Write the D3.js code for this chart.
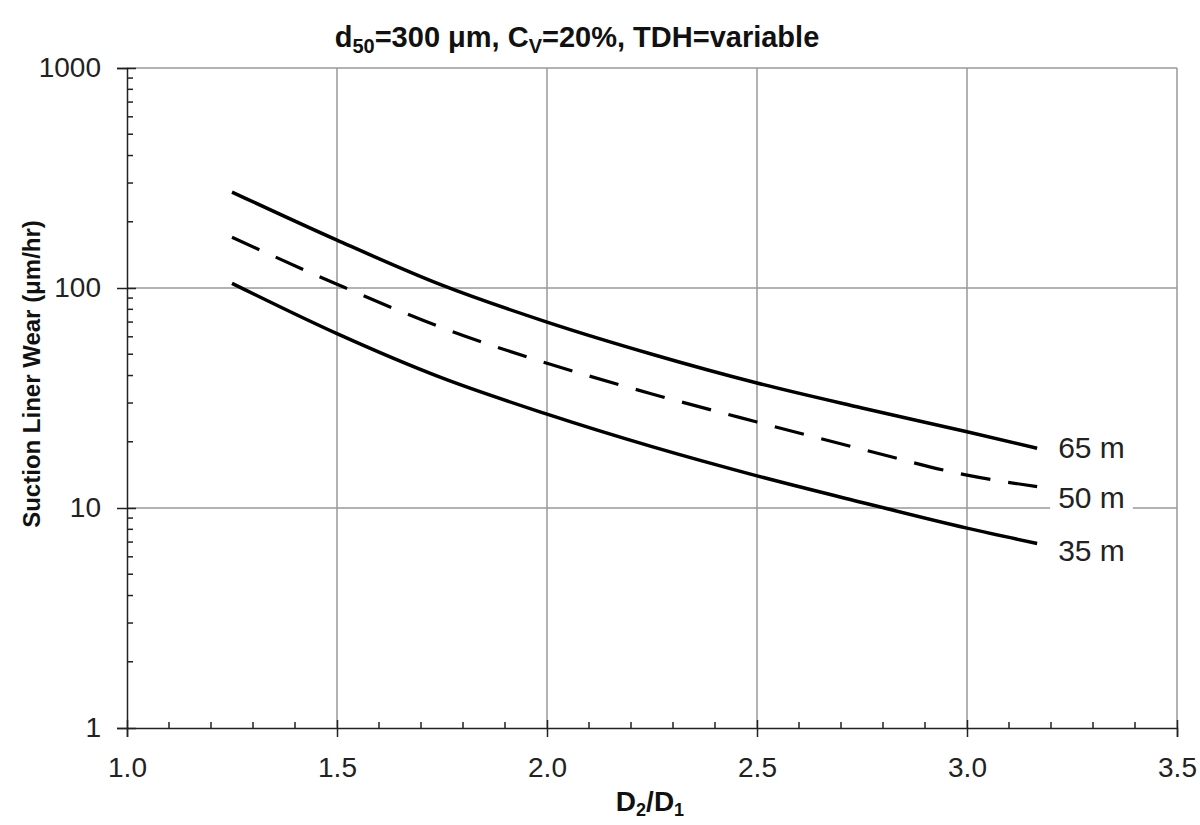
<!DOCTYPE html>
<html>
<head>
<meta charset="utf-8">
<script src="https://cdn.jsdelivr.net/npm/d3@7"></script>
<style>
  body { margin: 0; background: #fff; }
  text { font-family: "Liberation Sans", Arial, sans-serif; }
</style>
</head>
<body>
<div id="chart"></div>
<script>
// D2/D1 values
const ratios = [1.25, 1.5, 1.75, 2.0, 2.25, 2.5, 2.75, 3.0, 3.167];
// suction liner wear, um/hr
const wear65 = [273, 165, 103, 70, 50, 37, 28.5, 22.2, 18.7];
const wear50 = [170, 104, 66, 45.5, 33, 24.6, 18.5, 14.1, 12.5];
const wear35 = [105, 62, 39, 26.7, 19, 14, 10.6, 8.1, 6.9];
const seriesNames = ["65 m", "50 m", "35 m"];
const xTicks = [1.0, 1.5, 2.0, 2.5, 3.0, 3.5];
const yTicks = [1, 10, 100, 1000];

const chart = {};
chart.width = 1200;
chart.height = 825;
chart.margin = { top: 68, right: 23, bottom: 97, left: 127 };
chart.w = chart.width - chart.margin.left - chart.margin.right;
chart.h = chart.height - chart.margin.top - chart.margin.bottom;

const svg = d3.select("#chart")
    .append("svg")
    .attr("width", chart.width)
    .attr("height", chart.height);

const g = svg.append("g")
    .attr("transform", "translate(" + chart.margin.left + "," + chart.margin.top + ")");

const x = d3.scaleLinear().domain([1.0, 3.5]).range([0, chart.w]);
const y = d3.scaleLog().domain([1, 1000]).range([chart.h, 0]);

// gridlines
g.append("g").selectAll("line").data(xTicks.slice(1)).enter().append("line")
    .attr("x1", d => x(d)).attr("x2", d => x(d))
    .attr("y1", 0).attr("y2", chart.h)
    .attr("stroke", "#999").attr("stroke-width", 1.5);
g.append("g").selectAll("line").data(yTicks.slice(1)).enter().append("line")
    .attr("x1", 0).attr("x2", chart.w)
    .attr("y1", d => y(d)).attr("y2", d => y(d))
    .attr("stroke", "#999").attr("stroke-width", 1.5);

// minor ticks
const xMinor = d3.range(10, 35).map(d => d / 10).filter(d => Math.abs(d * 2 - Math.round(d * 2)) > 1e-6);
g.append("g").selectAll("line").data(xMinor).enter().append("line")
    .attr("x1", d => x(d)).attr("x2", d => x(d))
    .attr("y1", chart.h - 6).attr("y2", chart.h)
    .attr("stroke", "#222").attr("stroke-width", 1.5);
const yMinor = [];
[1, 10, 100].forEach(dec => { for (let k = 2; k <= 9; k++) yMinor.push(dec * k); });
g.append("g").selectAll("line").data(yMinor).enter().append("line")
    .attr("x1", 0).attr("x2", 6)
    .attr("y1", d => y(d)).attr("y2", d => y(d))
    .attr("stroke", "#222").attr("stroke-width", 1.5);

// axes
const xAxis = g.append("g")
    .attr("transform", `translate(0, ${chart.h})`)
    .call(d3.axisBottom(x).tickValues(xTicks).tickFormat(d3.format(".1f")).tickSize(9).tickPadding(20));
xAxis.select(".domain").attr("stroke", "#222").attr("stroke-width", 1.5);
xAxis.selectAll(".tick line").attr("stroke", "#222").attr("stroke-width", 1.5).attr("y1", -8);
xAxis.selectAll("text").attr("font-size", 28).attr("fill", "#222")
    .style("font-family", "'Liberation Sans', Arial, sans-serif");

const yAxis = g.append("g")
    .call(d3.axisLeft(y).tickValues(yTicks).tickFormat(d3.format("d")).tickSize(10).tickPadding(16));
yAxis.select(".domain").attr("stroke", "#222").attr("stroke-width", 1.5);
yAxis.selectAll(".tick line").attr("stroke", "#222").attr("stroke-width", 1.5).attr("x1", 9);
yAxis.selectAll("text").attr("font-size", 28).attr("fill", "#222")
    .style("font-family", "'Liberation Sans', Arial, sans-serif");

// curves
const line = d3.line()
    .curve(d3.curveMonotoneX)
    .x(d => x(d[0]))
    .y(d => y(d[1]));

const allSeries = [wear65, wear50, wear35];
const dashes = [null, "30,18", null];
const labelDy = [10, 21, 18];

allSeries.forEach((vals, i) => {
    const pts = ratios.map((r, j) => [r, vals[j]]);
    g.append("path")
        .datum(pts)
        .attr("fill", "none")
        .attr("stroke", "#000")
        .attr("stroke-width", i === 1 ? 3.2 : 3.5)
        .attr("stroke-dasharray", dashes[i])
        .attr("d", line);

    const last = pts[pts.length - 1];
    const lbl = g.append("text")
        .attr("x", x(last[0]) + 21)
        .attr("y", y(last[1]) + labelDy[i])
        .attr("font-size", 30)
        .attr("fill", "#222")
        .text(seriesNames[i]);
    if (i === 1) {
        const bb = lbl.node().getBBox();
        g.insert("rect", () => lbl.node())
            .attr("x", bb.x - 8).attr("y", bb.y)
            .attr("width", bb.width + 16).attr("height", bb.height)
            .attr("fill", "#fff");
    }
});

// title
const title = svg.append("text")
    .attr("x", 577)
    .attr("y", 47)
    .attr("text-anchor", "middle")
    .attr("font-size", 29)
    .attr("font-weight", "bold")
    .attr("fill", "#111");
title.append("tspan").text("d");
title.append("tspan").attr("font-size", 20).attr("dy", 6).text("50");
title.append("tspan").attr("dy", -6).text("=300 \u03bcm, C");
title.append("tspan").attr("font-size", 20).attr("dy", 6).text("V");
title.append("tspan").attr("dy", -6).text("=20%, TDH=variable");

// x axis title
const xt = svg.append("text")
    .attr("x", 650)
    .attr("y", 811)
    .attr("text-anchor", "middle")
    .attr("font-size", 28)
    .attr("font-weight", "bold")
    .attr("fill", "#111");
xt.append("tspan").text("D");
xt.append("tspan").attr("font-size", 18).attr("dy", 5).text("2");
xt.append("tspan").attr("dy", -5).text("/D");
xt.append("tspan").attr("font-size", 18).attr("dy", 5).text("1");

// y axis title
svg.append("text")
    .attr("transform", "translate(40, 374) rotate(-90)")
    .attr("text-anchor", "middle")
    .attr("font-size", 24)
    .attr("font-weight", "bold")
    .attr("fill", "#111")
    .text("Suction Liner Wear (\u03bcm/hr)");
</script>
</body>
</html>
